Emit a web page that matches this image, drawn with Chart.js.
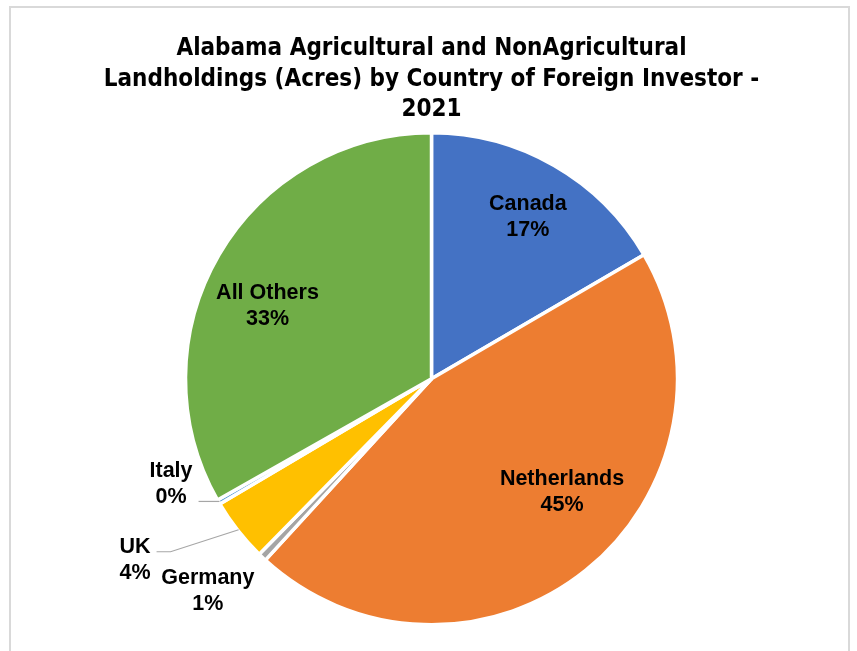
<!DOCTYPE html>
<html>
<head>
<meta charset="utf-8">
<script src="https://cdn.jsdelivr.net/npm/chart.js@4/dist/chart.umd.min.js"></script>
<style>
  html, body { margin: 0; padding: 0; background: #ffffff; }
  #wrap { width: 857px; height: 651px; }
</style>
</head>
<body>
<div id="wrap"><canvas id="pie" width="857" height="651"></canvas></div>
<script>
// Foreign-held Alabama landholdings, share of acres by investor country (2021)
const countries = ['Canada', 'Netherlands', 'Germany', 'UK', 'Italy', 'All Others'];
const sharePct = [16.6, 45.2, 0.55, 4.15, 0.3, 33.2];
const sliceColors = ['#4472C4', '#ED7D31', '#A5A5A5', '#FFC000', '#5B9BD5', '#70AD47'];
const titleLines = [
  'Alabama Agricultural and NonAgricultural',
  'Landholdings (Acres) by Country of Foreign Investor -',
  '2021'
];

// label placement: distance from centre as a fraction of the radius,
// and a small turn (degrees) away from the slice's middle angle
const labelRadius = [0.77, 0.70, 1.25, 1.41, 1.14, 0.73];
const labelTurn = [0.7, -10.4, 3.2, 6.8, 8.3, -6.2];
// slices whose label sits outside and gets a leader line
const leaderLine = [false, false, false, true, true, false];

const LABEL_FONT = 'bold 21.5px "Liberation Sans", Arial, sans-serif';
const LABEL_LINE = 26;

const framePlugin = {
  id: 'frame',
  beforeDraw(chart) {
    const ctx = chart.ctx;
    ctx.save();
    ctx.fillStyle = '#ffffff';
    ctx.fillRect(0, 0, chart.width, chart.height);
    ctx.strokeStyle = '#D9D9D9';
    ctx.lineWidth = 2;
    ctx.strokeRect(10, 7, 839, 660);
    ctx.restore();
  }
};

const sliceLabels = {
  id: 'sliceLabels',
  afterDatasetsDraw(chart) {
    const ctx = chart.ctx;
    const meta = chart.getDatasetMeta(0);
    const values = chart.data.datasets[0].data;
    const total = values.reduce((a, b) => a + b, 0);
    ctx.save();
    ctx.font = LABEL_FONT;
    ctx.textAlign = 'center';
    ctx.textBaseline = 'middle';
    meta.data.forEach((arc, i) => {
      const p = arc.getProps(['x', 'y', 'startAngle', 'endAngle', 'outerRadius'], true);
      const mid = (p.startAngle + p.endAngle) / 2;
      const ang = mid + labelTurn[i] * Math.PI / 180;
      const r = p.outerRadius * labelRadius[i];
      const lx = p.x + Math.cos(ang) * r;
      const ly = p.y + Math.sin(ang) * r + 1;
      const pct = Math.round(values[i] / total * 100) + '%';
      const lines = [chart.data.labels[i], pct];

      if (leaderLine[i]) {
        const w = Math.max(...lines.map(t => ctx.measureText(t).width));
        const ex = p.x + Math.cos(mid) * (p.outerRadius - 1);
        const ey = p.y + Math.sin(mid) * (p.outerRadius - 1);
        const sx = lx + w / 2 + 6;
        const sy = Math.min(Math.max(ey, ly - 8), ly + 20);
        ctx.beginPath();
        ctx.moveTo(sx, sy);
        ctx.lineTo(sx + 14, sy);
        ctx.lineTo(ex, ey);
        ctx.strokeStyle = '#A6A6A6';
        ctx.lineWidth = 1.2;
        ctx.stroke();
      }

      ctx.fillStyle = '#000000';
      lines.forEach((t, k) => {
        ctx.fillText(t, lx, ly + (k - 0.5) * LABEL_LINE);
      });
    });
    ctx.restore();
  }
};

new Chart(document.getElementById('pie'), {
  type: 'pie',
  data: {
    labels: countries,
    datasets: [{
      data: sharePct,
      backgroundColor: sliceColors,
      borderColor: '#ffffff',
      borderWidth: 3.5,
      radius: 246
    }]
  },
  options: {
    responsive: false,
    animation: false,
    events: [],
    layout: { padding: { top: 0, left: 20, right: 14, bottom: 23 } },
    plugins: {
      legend: { display: false },
      tooltip: { enabled: false },
      title: {
        display: true,
        text: titleLines,
        color: '#000000',
        font: { family: '"DejaVu Sans Condensed", "DejaVu Sans", sans-serif', size: 24, weight: 'bold', lineHeight: 1.27 },
        padding: { top: 34, bottom: 4 }
      }
    }
  },
  plugins: [framePlugin, sliceLabels]
});
</script>
</body>
</html>
